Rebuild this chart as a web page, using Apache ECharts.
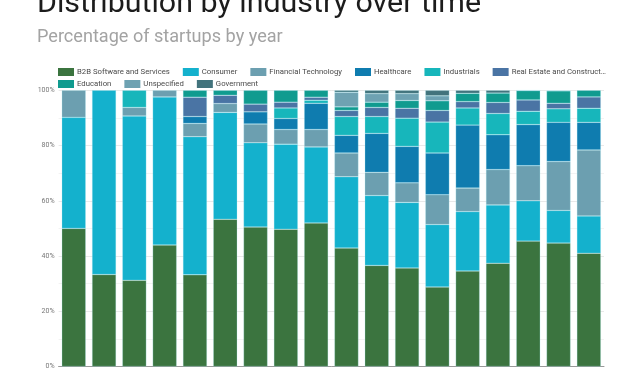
<!DOCTYPE html>
<html><head><meta charset="utf-8">
<style>html,body{margin:0;padding:0;background:#fff}#c{width:640px;height:370px}</style>
<script src="https://cdn.jsdelivr.net/npm/echarts@6/dist/echarts.min.js"></script></head>
<body><div id="c"></div>
<script>
const titleText = "Distribution by industry over time";
const subtitleText = "Percentage of startups by year";
const categories = ["1","2","3","4","5","6","7","8","9","10","11","12","13","14","15","16","17","18"];
const yTicks = ["0%","20%","40%","60%","80%","100%"];
const seriesNames = ["B2B Software and Services","Consumer","Financial Technology","Healthcare","Industrials","Real Estate and Construct…","Education","Unspecified","Government"];
const seriesColors = ["#3b743f","#14b1cd","#6c9fb0","#0f7caf","#17b6bb","#4a74a4","#109b8f","#6ea2b2","#42737c"];
const b2b = [50,33.3,31.2,44,33.2,53.3,50.5,49.7,52,42.9,36.6,35.7,28.8,34.6,37.4,45.4,44.7,41];
const consumer = [40.2,66.7,59.5,53.6,50,38.7,30.5,30.8,27.5,25.8,25.3,23.7,22.6,21.5,21.1,14.6,11.8,13.5];
const fintech = [9.8,0,3.1,2.4,4.8,3.2,6.8,5.3,6.3,8.6,8.4,7.1,10.8,8.5,12.8,12.7,17.7,23.9];
const healthcare = [0,0,0,0,2.5,0,4.4,4,9.5,6.4,14.1,13.2,15.1,22.8,12.6,14.9,14.2,10];
const industrials = [0,0,6.2,0,0,0,0,3.8,1.1,6.8,6.1,10.2,11.2,6.2,7.7,4.8,4.9,5.1];
const realEstate = [0,0,0,0,7,3,2.8,2.1,1.1,2.2,3.3,3.6,4.2,2.3,4,4.1,2,4.1];
const education = [0,0,0,0,2.5,1.8,5,4.3,2.5,1.3,1.9,2.8,3.5,3,3.4,3.4,4.5,2.4];
const unspecified = [0,0,0,0,0,0,0,0,0,5.3,3.1,2.5,1.8,0,0,0.1,0.2,0];
const government = [0,0,0,0,0,0,0,0,0,0.7,1.2,1.2,2,1.1,1,0,0,0];
const allValues = [b2b,consumer,fintech,healthcare,industrials,realEstate,education,unspecified,government];
const chart = echarts.init(document.getElementById('c'),null,{renderer:'canvas'});
const font = 'Roboto';
const legendBase = {left:58,width:580,itemWidth:16,itemHeight:8,itemGap:13,padding:0,icon:'rect',
  itemStyle:{borderWidth:0},
  textStyle:{fontFamily:font,fontSize:7.75,color:'#4a4a4a',padding:[0,0,0,-2]}};
chart.setOption({
  animation:false,
  title:[
    {text:titleText,left:37,top:-11,padding:0,textStyle:{fontFamily:font,fontSize:30.4,fontWeight:'normal',color:'#1c1c1c'}},
    {text:subtitleText,left:37,top:28.5,padding:0,textStyle:{fontFamily:font,fontSize:18.1,fontWeight:'normal',color:'#a3a3a3'}}
  ],
  legend:[
    Object.assign({},legendBase,{top:68,data:seriesNames.slice(0,6)}),
    Object.assign({},legendBase,{top:80,data:seriesNames.slice(6)})
  ],
  grid:{left:58.6,right:36,top:90.3,bottom:3},
  xAxis:{type:'category',data:categories,axisTick:{show:false},axisLabel:{show:false},
    axisLine:{lineStyle:{color:'#999',width:1}}},
  yAxis:{type:'value',min:0,max:100,interval:20,
    axisLine:{show:false},axisTick:{show:false},
    axisLabel:{fontFamily:font,fontSize:7,color:'#777',margin:4,
      formatter:(v)=>yTicks[v/20]},
    splitLine:{lineStyle:{color:'#e9e9e9',width:1}},
    minorTick:{show:false,splitNumber:2},
    minorSplitLine:{show:true,lineStyle:{color:'#f3f3f3',width:1}}},
  series:seriesNames.map((n,i)=>({
    name:n,type:'bar',stack:'t',barWidth:24,
    data:allValues[i].map(v=>v===0?null:v),
    itemStyle:{color:seriesColors[i],borderColor:'rgba(170,232,245,0.55)',borderWidth:0.5}
  }))
});
</script></body></html>
